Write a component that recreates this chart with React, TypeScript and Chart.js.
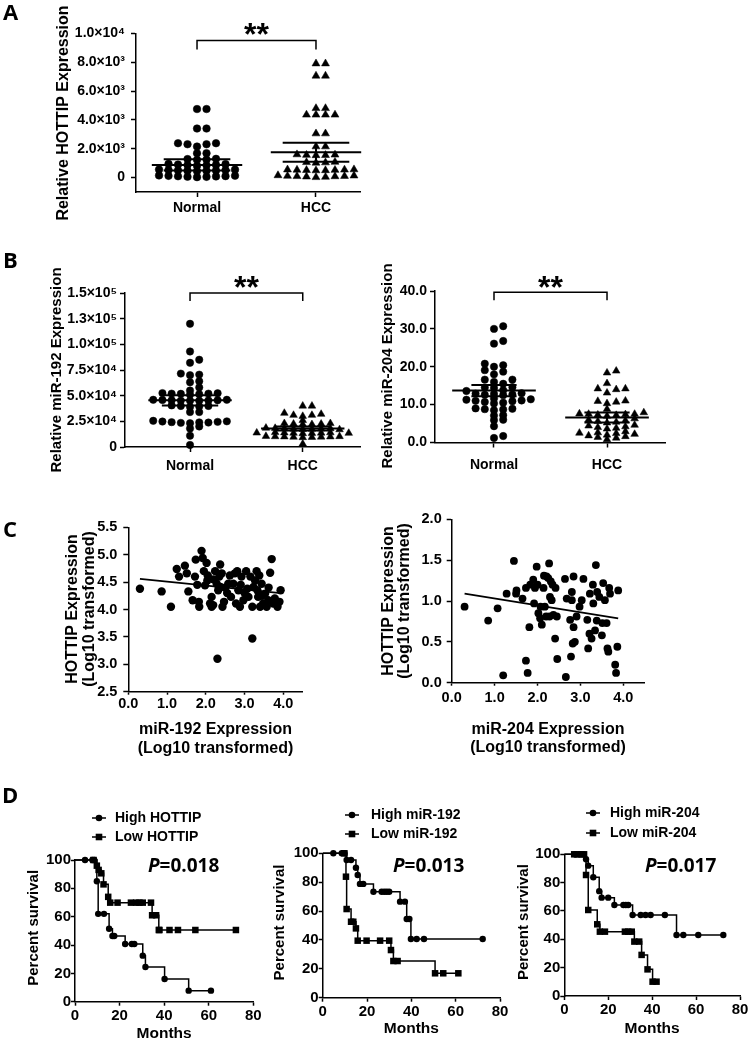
import React, { useEffect, useRef } from "react";
import { Chart, registerables } from "chart.js";

Chart.register(...registerables);

const FAMILY = "'Liberation Sans', Arial, sans-serif";
const HEAD = "'Open Sans', 'Liberation Sans', sans-serif";
const bold = (s: number) => `bold ${s}px ${FAMILY}`;

// ================= Panel A : HOTTIP =================
const groupLabels = ["Normal", "HCC"];
const hottipNormal = [4750, 4750, 3400, 3400, 2380, 2380, 2310, 2310, 2150, 1690, 1690, 1300, 1280, 1250, 1230, 950, 930, 900, 880, 870, 850, 820, 560, 550, 530, 520, 500, 490, 480, 470, 450, 150, 130, 120, 100, 90, 80, 60, 50, 30];
const hottipHCC = [7900, 7900, 7050, 7050, 4800, 4800, 4350, 4350, 4350, 4350, 3050, 3050, 2150, 2150, 1600, 1580, 1560, 1550, 1540, 1080, 1060, 1040, 1020, 560, 550, 540, 530, 520, 510, 500, 490, 150, 130, 110, 100, 90, 80, 60, 40, 20];
const hottipMean = [880, 1750];
const hottipSEM = [390, 660];
const hottipTicks = [0, 2000, 4000, 6000, 8000, 10000];
const hottipTickLabels = ["0", "2.0×10³", "4.0×10³", "6.0×10³", "8.0×10³", "1.0×10⁴"];

// ================= Panel B : miR-192 / miR-204 =================
const mir192Normal = [120000, 93000, 85000, 82000, 71500, 70000, 70500, 64000, 63000, 58000, 55000, 52500, 52300, 52000, 52000, 51800, 51500, 51000, 46000, 46000, 45800, 45600, 45500, 45400, 45200, 45000, 45000, 40500, 40000, 40000, 39500, 39000, 34000, 34000, 25500, 25000, 24800, 24500, 24200, 24000, 23800, 23500, 23200, 20000, 18000, 11000, 2000];
const mir192HCC = [40000, 40000, 33000, 32000, 31000, 31000, 30000, 26000, 23000, 23000, 22500, 22500, 22000, 22000, 18500, 18300, 18000, 18000, 17800, 17600, 17500, 17300, 17000, 14200, 14000, 13900, 13800, 13700, 13600, 13500, 13400, 13200, 10500, 10300, 10200, 10000, 10000, 9800, 9700, 9500, 9300, 3000];
const mir192Mean = [45500, 18000];
const mir192SEM = [5000, 2000];
const mir192Ticks = [0, 25000, 50000, 75000, 100000, 125000, 150000];
const mir192TickLabels = ["0", "2.5×10⁴", "5.0×10⁴", "7.5×10⁴", "1.0×10⁵", "1.3×10⁵", "1.5×10⁵"];

const mir204Normal = [30.7, 30.0, 26.8, 26.1, 20.8, 20.4, 20.0, 19.1, 18.7, 18.0, 16.6, 16.6, 16.0, 15.5, 14.6, 14.5, 14.4, 13.8, 13.6, 13.0, 12.9, 12.8, 12.7, 12.6, 12.5, 11.6, 11.4, 11.3, 11.1, 11.0, 10.9, 10.7, 10.5, 10.3, 9.0, 8.9, 8.8, 8.7, 8.5, 7.2, 7.1, 6.0, 5.9, 4.3, 1.7, 1.2];
const mir204HCC = [18.9, 18.4, 15.6, 14.2, 14.2, 14.0, 13.1, 11.0, 10.9, 10.7, 10.3, 8.8, 7.9, 7.6, 7.5, 7.5, 7.4, 7.3, 7.2, 7.0, 6.3, 6.0, 5.8, 5.6, 5.4, 5.2, 4.6, 4.4, 4.2, 4.0, 3.8, 3.6, 2.9, 2.6, 2.5, 2.4, 2.2, 2.0, 1.8, 1.6, 1.4, 1.2, 0.8];
const mir204Mean = [13.7, 6.6];
const mir204SEM = [1.5, 1.3];
const mir204Ticks = [0, 10, 20, 30, 40];
const mir204TickLabels = ["0.0", "10.0", "20.0", "30.0", "40.0"];

// ================= Panel C : correlations =================
const corr192X = [0.30, 0.86, 1.10, 1.25, 1.31, 1.46, 1.51, 1.55, 1.66, 1.72, 1.74, 1.82, 1.83, 1.89, 1.92, 1.95, 1.98, 2.02, 2.04, 2.11, 2.15, 2.19, 2.24, 2.28, 2.32, 2.35, 2.37, 2.38, 2.41, 2.43, 2.47, 2.30, 2.58, 2.65, 2.71, 2.75, 2.78, 2.81, 2.84, 2.88, 2.92, 2.97, 3.04, 3.07, 3.10, 3.20, 3.23, 3.27, 3.31, 3.33, 3.35, 3.40, 3.44, 3.48, 3.53, 3.57, 3.61, 3.66, 3.70, 3.74, 3.78, 3.85, 3.90, 3.93, 3.20, 2.15, 2.05, 2.50, 2.62, 2.90, 3.00, 3.15, 3.45, 3.62, 2.20, 1.78, 2.55, 3.38];
const corr192Y = [4.38, 4.33, 4.05, 4.74, 4.60, 4.80, 4.66, 4.33, 4.17, 4.60, 4.91, 4.14, 4.05, 5.07, 4.94, 4.70, 4.44, 4.85, 4.53, 4.11, 4.23, 4.08, 4.70, 4.47, 4.35, 4.60, 4.82, 4.41, 4.66, 4.05, 4.14, 3.10, 4.47, 4.23, 4.47, 4.66, 4.11, 4.70, 4.35, 4.05, 4.60, 4.17, 4.70, 4.38, 4.23, 4.05, 4.41, 4.53, 4.70, 4.35, 4.23, 4.05, 4.47, 4.11, 4.29, 4.05, 4.17, 4.67, 4.92, 4.11, 4.20, 4.05, 4.14, 4.35, 3.47, 4.05, 4.62, 4.40, 4.62, 4.45, 4.30, 4.60, 4.25, 4.40, 4.55, 4.45, 4.30, 4.62];
const corr192Fit = { intercept: 4.58, slope: -0.072 };
const corr192YTicks = [2.5, 3.0, 3.5, 4.0, 4.5, 5.0, 5.5];
const corr192YLabels = ["2.5", "3.0", "3.5", "4.0", "4.5", "5.0", "5.5"];

const corr204X = [0.30, 0.85, 1.07, 1.20, 1.28, 1.45, 1.50, 1.51, 1.65, 1.73, 1.73, 1.77, 1.81, 1.83, 1.90, 1.92, 1.94, 1.98, 2.00, 2.02, 2.06, 2.07, 2.10, 2.14, 2.15, 2.17, 2.20, 2.21, 2.25, 2.27, 2.28, 2.29, 2.31, 2.33, 2.35, 2.37, 2.41, 2.42, 2.45, 2.46, 2.64, 2.66, 2.68, 2.76, 2.78, 2.80, 2.80, 2.82, 2.84, 2.84, 2.87, 2.91, 2.98, 3.03, 3.07, 3.16, 3.18, 3.21, 3.22, 3.26, 3.29, 3.30, 3.34, 3.36, 3.38, 3.39, 3.44, 3.50, 3.51, 3.53, 3.57, 3.61, 3.63, 3.65, 3.67, 3.69, 3.81, 3.83, 3.86, 3.88];
const corr204Y = [0.93, 0.76, 0.91, 0.09, 1.09, 1.49, 1.09, 1.13, 1.03, 1.16, 0.27, 0.12, 0.68, 1.20, 1.26, 0.97, 1.16, 1.42, 1.20, 0.85, 0.79, 0.93, 0.71, 1.16, 1.31, 0.93, 0.81, 1.30, 1.28, 1.46, 0.81, 1.05, 1.24, 1.01, 1.20, 0.83, 0.54, 1.16, 0.81, 0.29, 1.27, 0.07, 1.03, 0.77, 0.32, 1.11, 1.01, 0.48, 0.68, 1.30, 0.50, 0.81, 0.93, 1.01, 1.27, 0.77, 0.42, 0.60, 1.09, 0.54, 1.20, 0.97, 0.64, 1.44, 0.76, 1.11, 1.05, 0.58, 0.73, 1.22, 1.01, 0.73, 0.42, 0.38, 1.16, 1.09, 0.22, 0.12, 0.44, 1.13];
const corr204Fit = { intercept: 1.116, slope: -0.0845 };
const corr204YTicks = [0, 0.5, 1.0, 1.5, 2.0];
const corr204YLabels = ["0.0", "0.5", "1.0", "1.5", "2.0"];

const corrXTicks = [0, 1, 2, 3, 4];
const corrXLabels = ["0.0", "1.0", "2.0", "3.0", "4.0"];

// ================= Panel D : survival =================
const hottipHighT = [0, 4.5, 7.8, 8.6, 9.8, 10.4, 13.0, 15.3, 16.8, 17.6, 22.5, 25.5, 26.6, 30.4, 31.6, 40.2, 51.0, 61.0];
const hottipHighS = [100, 100, 100, 100, 85, 62, 62, 51.5, 46.4, 46.4, 40.7, 40.7, 40.7, 32.5, 24.5, 16, 7.8, 7.8];
const hottipLowT = [0, 8.3, 9.8, 10.6, 11.8, 12.8, 14.9, 15.8, 19.1, 25.1, 27.4, 28.9, 30.4, 34.1, 34.6, 36.4, 37.6, 37.9, 42.4, 46.2, 54.0, 72.2];
const hottipLowS = [100, 100, 96, 93, 90.6, 82.8, 74, 69.9, 69.9, 69.9, 69.9, 69.9, 69.9, 69.9, 61, 61, 50.6, 50.6, 50.6, 50.6, 50.6, 50.6];

const mir192HighT = [0, 4.8, 8.6, 9.8, 10.8, 12.8, 15.0, 15.8, 16.8, 18.3, 22.9, 26.6, 27.8, 28.9, 30.0, 34.9, 37.1, 37.9, 39.1, 39.8, 42.4, 45.7, 72.2];
const mir192HighS = [100, 100, 100, 100, 95.4, 95.4, 90, 85, 78.8, 78.8, 73.4, 73.4, 73.4, 73.4, 73.4, 66.5, 66.5, 54.5, 54.5, 40.6, 40.6, 40.6, 40.6];
const mir192LowT = [0, 9.8, 10.5, 10.8, 12.8, 13.8, 15.0, 15.8, 19.8, 25.9, 30.0, 30.8, 31.9, 33.8, 50.7, 54.4, 61.2];
const mir192LowS = [100, 100, 83.8, 61.4, 52.6, 52.6, 48, 39.5, 39.5, 39.5, 39.5, 33, 25.4, 25.4, 16.9, 16.9, 16.9];

const mir204HighT = [0, 4.9, 7.1, 8.6, 9.9, 10.9, 13.2, 15.9, 17.0, 20.0, 22.8, 26.9, 28.0, 29.1, 31.1, 34.8, 37.0, 39.3, 45.8, 51.1, 54.2, 61.0, 72.4];
const mir204HighS = [100, 100, 100, 100, 96.5, 92, 83.8, 74, 69.4, 69.4, 64.2, 64.2, 64.2, 64.2, 57.2, 57.2, 57.2, 57.2, 57.2, 43, 43, 43, 43];
const mir204LowT = [0, 4.5, 6.0, 7.5, 9.0, 9.9, 10.9, 15.0, 16.2, 18.5, 27.6, 29.1, 30.7, 31.9, 34.1, 35.2, 37.9, 40.2, 42.0];
const mir204LowS = [100, 100, 100, 100, 100, 85.4, 60.7, 50.6, 45.4, 45.4, 45.4, 45.4, 45.4, 38.4, 38.4, 29, 18.8, 10.1, 10.1];

const survYTicks = [0, 20, 40, 60, 80, 100];
const survYLabels = ["0", "20", "40", "60", "80", "100"];
const survXTicks = [0, 20, 40, 60, 80];
const survXLabels = ["0", "20", "40", "60", "80"];
const survLegends = [["High HOTTIP", "Low HOTTIP"], ["High miR-192", "Low miR-192"], ["High miR-204", "Low miR-204"]];
const survP = ["0.018", "0.013", "0.017"];

// ================= generic machinery =================
type Box = { l: number; t: number; r: number; b: number };
type Part = { text: string; font: string };
type TextItem = { parts: Part[]; x: number; y: number; align?: "left" | "center" | "right"; rotate?: boolean; baseline?: CanvasTextBaseline };
type AxisSpec = { min: number; max: number; ticks: number[]; labels: string[]; tickLength: number; pad: number; size: number };
type PanelSpec = {
  canvas: Box;
  area: Box;
  x: AxisSpec;
  y: AxisSpec;
  datasets: any[];
  texts: TextItem[];
  draw?: (chart: Chart, ctx: CanvasRenderingContext2D, spec: PanelSpec) => void;
  after?: (chart: Chart) => void;
};

function drawText(ctx: CanvasRenderingContext2D, t: TextItem, ox: number, oy: number) {
  ctx.save();
  ctx.translate(t.x - ox, t.y - oy);
  if (t.rotate) ctx.rotate(-Math.PI / 2);
  ctx.textBaseline = t.baseline ?? "middle";
  ctx.textAlign = "left";
  ctx.fillStyle = "#000";
  let total = 0;
  for (const p of t.parts) {
    ctx.font = p.font;
    total += ctx.measureText(p.text).width;
  }
  let x = t.align === "center" ? -total / 2 : t.align === "right" ? -total : 0;
  for (const p of t.parts) {
    ctx.font = p.font;
    ctx.fillText(p.text, x, 0);
    x += ctx.measureText(p.text).width;
  }
  ctx.restore();
}

const simple = (text: string, x: number, y: number, font: string, extra: Partial<TextItem> = {}): TextItem => ({ parts: [{ text, font }], x, y, align: "center", ...extra });
const letter = (text: string, x: number, baseY: number): TextItem => ({ parts: [{ text, font: `bold 22px ${HEAD}` }], x, y: baseY, align: "left", baseline: "alphabetic" });

function buildConfig(spec: PanelSpec): any {
  const { canvas, area } = spec;
  const axis = (a: AxisSpec, isX: boolean) => ({
    type: "linear",
    min: a.min,
    max: a.max,
    afterBuildTicks: (s: any) => {
      s.ticks = a.ticks.map((v) => ({ value: v }));
    },
    afterFit: (s: any) => {
      if (isX) s.height = canvas.b - area.b;
      else s.width = area.l - canvas.l;
    },
    ticks: {
      autoSkip: false,
      maxRotation: 0,
      minRotation: 0,
      padding: a.pad,
      color: "#000",
      font: { family: FAMILY, size: a.size, weight: "bold" },
      callback: (_v: any, i: number) => a.labels[i],
    },
    grid: { display: true, drawOnChartArea: false, drawTicks: true, tickLength: a.tickLength, tickColor: "#000", tickWidth: 1.5 },
    border: { display: true, color: "#000", width: 1.5 },
  });
  const overlay = {
    id: "overlay",
    afterDraw(chart: Chart) {
      const ctx = chart.ctx;
      ctx.save();
      if (spec.draw) spec.draw(chart, ctx, spec);
      for (const t of spec.texts) drawText(ctx, t, canvas.l, canvas.t);
      ctx.restore();
    },
  };
  return {
    type: "scatter",
    data: { datasets: spec.datasets },
    options: {
      responsive: false,
      maintainAspectRatio: false,
      animation: false,
      devicePixelRatio: 1,
      events: [],
      layout: { padding: { left: 0, top: area.t - canvas.t, right: canvas.r - area.r, bottom: 0 } },
      plugins: { legend: { display: false }, tooltip: { enabled: false }, title: { display: false } },
      scales: { x: axis(spec.x, true), y: axis(spec.y, false) },
    },
    plugins: [overlay],
  };
}

function ChartPanel({ spec }: { spec: PanelSpec }) {
  const ref = useRef<HTMLCanvasElement>(null);
  useEffect(() => {
    const chart = new Chart(ref.current as HTMLCanvasElement, buildConfig(spec));
    if (spec.after) spec.after(chart);
    return () => chart.destroy();
  }, []);
  const w = spec.canvas.r - spec.canvas.l;
  const h = spec.canvas.b - spec.canvas.t;
  return <canvas ref={ref} width={w} height={h} style={{ position: "absolute", left: spec.canvas.l, top: spec.canvas.t, width: w, height: h }} />;
}

// ---------- dot plot helpers ----------
function dotSets(groups: number[][], radii: number[]) {
  const styles = ["circle", "triangle"];
  return groups.map((vals, gi) => ({
    type: "scatter",
    data: vals.map((v) => ({ x: gi, y: v })),
    pointStyle: styles[gi],
    pointRadius: radii[gi],
    backgroundColor: "#000",
    borderColor: "#000",
    borderWidth: 0.5,
    clip: false,
  }));
}

function swarmLayout(chart: Chart, groups: number[][], spacing: number, vgap: number) {
  const xs: any = chart.scales.x;
  const ys: any = chart.scales.y;
  const unit = xs.getPixelForValue(1) - xs.getPixelForValue(0);
  groups.forEach((vals, gi) => {
    const order = vals.map((_, i) => i).sort((a, b) => vals[a] - vals[b]);
    const placed: { dx: number; py: number }[] = [];
    const off = new Array(vals.length).fill(0);
    for (const idx of order) {
      const py = ys.getPixelForValue(vals[idx]);
      for (let k = 0; k < 400; k++) {
        const m = Math.ceil(k / 2) * (k % 2 === 1 ? 1 : -1);
        const dx = (m * spacing) / 2;
        const ok = placed.every((p) => Math.abs(p.py - py) >= vgap || Math.abs(p.dx - dx) >= spacing - 0.01);
        if (ok) {
          off[idx] = dx;
          placed.push({ dx, py });
          break;
        }
      }
    }
    (chart.data.datasets[gi] as any).data = vals.map((v, i) => ({ x: gi + off[i] / unit, y: v }));
  });
  chart.update();
}

function dotPlotDraw(means: number[], sems: number[], bracketVal: number, drop: number, starGap: number, meanHalf: number, semHalf: number) {
  return (chart: Chart, ctx: CanvasRenderingContext2D) => {
    const xs: any = chart.scales.x;
    const ys: any = chart.scales.y;
    const unit = xs.getPixelForValue(1) - xs.getPixelForValue(0);
    const seg = (x1: number, y1: number, x2: number, y2: number) => {
      ctx.beginPath();
      ctx.moveTo(x1, y1);
      ctx.lineTo(x2, y2);
      ctx.stroke();
    };
    ctx.strokeStyle = "#000";
    ctx.lineWidth = 2;
    means.forEach((m, i) => {
      const cx = xs.getPixelForValue(i);
      const ym = ys.getPixelForValue(m);
      const yu = ys.getPixelForValue(m + sems[i]);
      const yl = ys.getPixelForValue(m - sems[i]);
      seg(cx - unit * meanHalf, ym, cx + unit * meanHalf, ym);
      seg(cx - unit * semHalf, yu, cx + unit * semHalf, yu);
      seg(cx - unit * semHalf, yl, cx + unit * semHalf, yl);
      seg(cx, yu, cx, yl);
    });
    const x0 = xs.getPixelForValue(0);
    const x1 = xs.getPixelForValue(1);
    const yb = ys.getPixelForValue(bracketVal);
    ctx.lineWidth = 1.5;
    ctx.beginPath();
    ctx.moveTo(x0, yb + drop);
    ctx.lineTo(x0, yb);
    ctx.lineTo(x1, yb);
    ctx.lineTo(x1, yb + drop);
    ctx.stroke();
    const fs = 32;
    ctx.font = `bold ${fs}px ${FAMILY}`;
    ctx.fillStyle = "#000";
    ctx.textAlign = "center";
    ctx.textBaseline = "alphabetic";
    ctx.fillText("**", (x0 + x1) / 2, yb - starGap + 0.575 * fs);
  };
}

// ---------- correlation helpers ----------
function corrSets(xv: number[], yv: number[], fit: { intercept: number; slope: number }, r: number) {
  const lo = Math.min(...xv);
  const hi = Math.max(...xv);
  return [
    {
      type: "scatter",
      data: xv.map((x, i) => ({ x, y: yv[i] })),
      pointStyle: "circle",
      pointRadius: r,
      backgroundColor: "#000",
      borderColor: "#000",
      borderWidth: 0,
      clip: false,
    },
    {
      type: "line",
      data: [lo, hi].map((x) => ({ x, y: fit.intercept + fit.slope * x })),
      borderColor: "#000",
      borderWidth: 1.8,
      pointRadius: 0,
      fill: false,
    },
  ];
}

// ---------- survival helpers ----------
function kmSet(t: number[], s: number[], style: string, r: number) {
  return {
    type: "line",
    data: t.map((x, i) => ({ x, y: s[i] })),
    stepped: true,
    borderColor: "#000",
    borderWidth: 1.5,
    pointStyle: style,
    pointRadius: t.map((_, i) => (i === 0 ? 0 : r)),
    pointBackgroundColor: "#000",
    pointBorderColor: "#000",
    pointBorderWidth: 0,
    fill: false,
    clip: false,
  };
}

function legendDraw(items: { label: string; style: string; y: number }[], mx: number, tx: number) {
  return (_chart: Chart, ctx: CanvasRenderingContext2D, spec: PanelSpec) => {
    const ox = spec.canvas.l;
    const oy = spec.canvas.t;
    ctx.strokeStyle = "#000";
    ctx.fillStyle = "#000";
    ctx.lineWidth = 1.5;
    for (const it of items) {
      const cx = mx - ox;
      const cy = it.y - oy;
      ctx.beginPath();
      ctx.moveTo(cx - 7, cy);
      ctx.lineTo(cx + 7, cy);
      ctx.stroke();
      ctx.beginPath();
      if (it.style === "circle") ctx.arc(cx, cy, 3.3, 0, Math.PI * 2);
      else ctx.rect(cx - 3.3, cy - 3.3, 6.6, 6.6);
      ctx.fill();
      ctx.font = bold(14);
      ctx.textAlign = "left";
      ctx.textBaseline = "middle";
      ctx.fillText(it.label, tx - ox, cy);
    }
  };
}

const pText = (p: string, x: number, y: number): TextItem => ({
  parts: [
    { text: "P", font: `italic bold 19px ${HEAD}` },
    { text: "=" + p, font: `bold 19px ${HEAD}` },
  ],
  x,
  y,
  align: "left",
});

// ================= panel specs =================
const specA: PanelSpec = {
  canvas: { l: 0, t: 0, r: 372, b: 232 },
  area: { l: 136, t: 33.3, r: 360, b: 192 },
  x: { min: -0.513, max: 1.37, ticks: [0, 1], labels: groupLabels, tickLength: 5, pad: 3, size: 14 },
  y: { min: -1000, max: 10000, ticks: hottipTicks, labels: hottipTickLabels, tickLength: 5, pad: 6, size: 14 },
  datasets: dotSets([hottipNormal, hottipHCC], [3.8, 4.6]),
  texts: [letter("A", 3, 20), simple("Relative HOTTIP Expression", 64, 113, bold(16), { rotate: true })],
  draw: dotPlotDraw(hottipMean, hottipSEM, 9500, 9, 14, 0.38, 0.28),
  after: (c) => swarmLayout(c, [hottipNormal, hottipHCC], 9.5, 5),
};

const specB1: PanelSpec = {
  canvas: { l: 0, t: 240, r: 372, b: 480 },
  area: { l: 125, t: 293, r: 360, b: 447 },
  x: { min: -0.577, max: 1.508, ticks: [0, 1], labels: groupLabels, tickLength: 5, pad: 6, size: 14 },
  y: { min: 0, max: 150000, ticks: mir192Ticks, labels: mir192TickLabels, tickLength: 5, pad: 3, size: 14 },
  datasets: dotSets([mir192Normal, mir192HCC], [3.7, 4.4]),
  texts: [letter("B", 3, 268), simple("Relative miR-192 Expression", 57, 370, bold(15), { rotate: true })],
  draw: dotPlotDraw(mir192Mean, mir192SEM, 150000, 8, 13, 0.37, 0.25),
  after: (c) => swarmLayout(c, [mir192Normal, mir192HCC], 9.2, 4),
};

const specB2: PanelSpec = {
  canvas: { l: 372, t: 240, r: 680, b: 480 },
  area: { l: 435, t: 291, r: 665, b: 442.5 },
  x: { min: -0.522, max: 1.513, ticks: [0, 1], labels: groupLabels, tickLength: 5, pad: 9, size: 14 },
  y: { min: 0, max: 40, ticks: mir204Ticks, labels: mir204TickLabels, tickLength: 5, pad: 3, size: 14 },
  datasets: dotSets([mir204Normal, mir204HCC], [3.7, 4.4]),
  texts: [simple("Relative miR-204 Expression", 388, 366, bold(15), { rotate: true })],
  draw: dotPlotDraw(mir204Mean, mir204SEM, 39.7, 8, 13, 0.37, 0.2),
  after: (c) => swarmLayout(c, [mir204Normal, mir204HCC], 9.2, 4.5),
};

const specC1: PanelSpec = {
  canvas: { l: 0, t: 505, r: 330, b: 760 },
  area: { l: 128.3, t: 527.3, r: 302.7, b: 691.7 },
  x: { min: 0, max: 4.5, ticks: corrXTicks, labels: corrXLabels, tickLength: 3, pad: 1, size: 14.5 },
  y: { min: 2.5, max: 5.5, ticks: corr192YTicks, labels: corr192YLabels, tickLength: 5, pad: 6, size: 14.5 },
  datasets: corrSets(corr192X, corr192Y, corr192Fit, 4.2),
  texts: [
    letter("C", 3, 537),
    simple("HOTTIP Expression", 73, 609, bold(16), { rotate: true }),
    simple("(Log10 transformed)", 90, 609, bold(16), { rotate: true }),
    simple("miR-192 Expression", 215.5, 730, bold(16)),
    simple("(Log10 transformed)", 215.5, 749, bold(16)),
  ],
};

const specC2: PanelSpec = {
  canvas: { l: 372, t: 505, r: 660, b: 760 },
  area: { l: 451.7, t: 519.3, r: 644.8, b: 682.7 },
  x: { min: 0, max: 4.5, ticks: corrXTicks, labels: corrXLabels, tickLength: 3, pad: 4, size: 14.5 },
  y: { min: 0, max: 2, ticks: corr204YTicks, labels: corr204YLabels, tickLength: 5, pad: 5, size: 14.5 },
  datasets: corrSets(corr204X, corr204Y, corr204Fit, 3.9),
  texts: [
    simple("HOTTIP Expression", 388.5, 601, bold(16), { rotate: true }),
    simple("(Log10 transformed)", 405, 601, bold(16), { rotate: true }),
    simple("miR-204 Expression", 548, 730, bold(16)),
    simple("(Log10 transformed)", 548, 748, bold(16)),
  ],
};

function survSpec(
  canvas: Box,
  area: Box,
  high: [number[], number[]],
  low: [number[], number[]],
  idx: number,
  titleX: number,
  monthsY: number,
  legY: [number, number],
  mx: number,
  tx: number,
  px: number,
  withLetter: boolean
): PanelSpec {
  const texts: TextItem[] = [
    simple("Percent survival", titleX, (area.t + area.b) / 2 - 3, bold(15), { rotate: true }),
    simple("Months", (area.l + area.r) / 2, monthsY, bold(15.5)),
    pText(survP[idx], px, 867),
  ];
  if (withLetter) texts.push(letter("D", 2, 803));
  return {
    canvas,
    area,
    x: { min: 0, max: 80, ticks: survXTicks, labels: survXLabels, tickLength: 4, pad: 1, size: 15 },
    y: { min: 0, max: 100, ticks: survYTicks, labels: survYLabels, tickLength: 4, pad: 0, size: 15 },
    datasets: [kmSet(low[0], low[1], "rect", 4.6), kmSet(high[0], high[1], "circle", 3.2)],
    texts,
    draw: legendDraw(
      [
        { label: survLegends[idx][0], style: "circle", y: legY[0] },
        { label: survLegends[idx][1], style: "rect", y: legY[1] },
      ],
      mx,
      tx
    ),
  };
}

const specD1 = survSpec({ l: 0, t: 780, r: 266, b: 1043 }, { l: 75, t: 860, r: 253.3, b: 1001.7 }, [hottipHighT, hottipHighS], [hottipLowT, hottipLowS], 0, 34, 1034, [818, 837], 99, 115, 148, true);
const specD2 = survSpec({ l: 266, t: 780, r: 512, b: 1043 }, { l: 322.7, t: 853.3, r: 500, b: 997.7 }, [mir192HighT, mir192HighS], [mir192LowT, mir192LowS], 1, 280, 1029, [815, 834], 352, 371, 393, false);
const specD3 = survSpec({ l: 512, t: 780, r: 750, b: 1043 }, { l: 564.3, t: 854.3, r: 740, b: 996 }, [mir204HighT, mir204HighS], [mir204LowT, mir204LowS], 2, 524, 1029, [813, 833], 593, 610, 645, false);

const allSpecs = [specA, specB1, specB2, specC1, specC2, specD1, specD2, specD3];

export default function App() {
  return (
    <div style={{ position: "absolute", left: 0, top: 0, width: 750, height: 1043, background: "#fff", overflow: "hidden" }}>
      {allSpecs.map((s, i) => (
        <ChartPanel key={i} spec={s} />
      ))}
    </div>
  );
}
